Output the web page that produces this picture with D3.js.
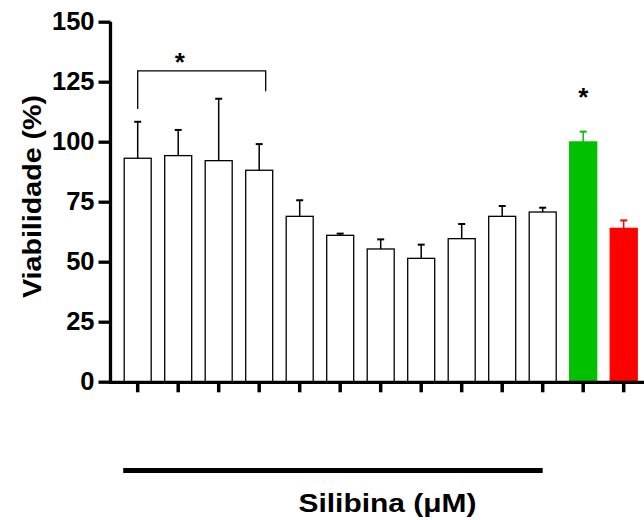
<!DOCTYPE html>
<html>
<head>
<meta charset="utf-8">
<script src="https://cdn.jsdelivr.net/npm/d3@7"></script>
<style>
  body { margin: 0; background: #fff; }
  svg text { font-family: "Liberation Sans", Arial, sans-serif; }
</style>
</head>
<body>
<div id="chart"></div>
<script>
// grupos (sem rótulos no eixo x)
var grupos = ["S1", "S2", "S3", "S4", "S5", "S6", "S7", "S8", "S9", "S10", "S11", "C+", "C-"];
// viabilidade média (%)
var medias = [93.1, 94.2, 92.1, 88.1, 68.9, 61.0, 55.3, 51.4, 59.6, 68.9, 70.7, 99.9, 63.9];
// erro padrão (somente barra superior)
var erros = [15.2, 10.7, 25.8, 10.9, 6.7, 0.7, 4.0, 5.7, 6.1, 4.3, 1.8, 4.3, 3.3];
var cores = ["#ffffff", "#ffffff", "#ffffff", "#ffffff", "#ffffff", "#ffffff", "#ffffff",
             "#ffffff", "#ffffff", "#ffffff", "#ffffff", "#00c000", "#ff0000"];
var yTicks = [0, 25, 50, 75, 100, 125, 150];

var width = 644, height = 520;
var data = grupos.map(function(g, i){
    return {g: g, m: medias[i], e: erros[i], c: cores[i]};
});

var svg = d3.select("#chart").append("svg")
    .attr("width", width)
    .attr("height", height);

var yScale = d3.scaleLinear().domain([0, 150]).range([381.7, 21.7]);
var xScale = d3.scaleBand()
    .domain(grupos)
    .range([117.45, 643.95])
    .paddingInner(1/3)
    .paddingOuter(1/6);

// barras
svg.append("g")
    .selectAll("rect")
    .data(data)
    .enter()
    .append("rect")
    .attr("x", function(d){ return xScale(d.g); })
    .attr("y", function(d){ return yScale(d.m); })
    .attr("width", xScale.bandwidth())
    .attr("height", function(d){ return yScale(0) - yScale(d.m); })
    .attr("fill", function(d){ return d.c; })
    .attr("stroke", function(d){ return d.c == "#ffffff" ? "#000" : d.c; })
    .attr("stroke-width", 1.3);

// barras de erro
var eb = svg.append("g").selectAll("g")
    .data(data)
    .enter()
    .append("g")
    .attr("stroke", function(d){ return d.c == "#ffffff" ? "#000" : d.c; });
eb.append("line")
    .attr("x1", function(d){ return xScale(d.g) + xScale.bandwidth()/2; })
    .attr("x2", function(d){ return xScale(d.g) + xScale.bandwidth()/2; })
    .attr("y1", function(d){ return yScale(d.m); })
    .attr("y2", function(d){ return yScale(d.m + d.e); })
    .attr("stroke-width", 1.5);
eb.append("line")
    .attr("x1", function(d){ return xScale(d.g) + xScale.bandwidth()/2 - 3.5; })
    .attr("x2", function(d){ return xScale(d.g) + xScale.bandwidth()/2 + 3.5; })
    .attr("y1", function(d){ return yScale(d.m + d.e); })
    .attr("y2", function(d){ return yScale(d.m + d.e); })
    .attr("stroke-width", 2);

// eixo y
var yAxis = svg.append("g")
    .attr("transform", "translate(110.5,0)")
    .call(d3.axisLeft(yScale).tickValues(yTicks).tickSize(12).tickSizeOuter(0).tickPadding(4));
yAxis.select(".domain").attr("stroke-width", 3.3).attr("d", "M0,383.5V21.7");
yAxis.selectAll(".tick line").attr("stroke-width", 3.3);
yAxis.selectAll(".tick text")
    .style("font-size", "25.5px")
    .style("font-weight", "bold")
    .attr("fill", "#000");

// eixo x
var xAxis = svg.append("g")
    .attr("transform", "translate(0,382.3)")
    .call(d3.axisBottom(xScale).tickSize(10).tickSizeOuter(0).tickFormat(""));
xAxis.select(".domain").attr("stroke-width", 3.3).attr("d", "M108.8,0H644");
xAxis.selectAll(".tick line").attr("stroke-width", 3.5);

// rótulo eixo y
svg.append("text")
    .attr("transform", "translate(41,196.5) rotate(-90)")
    .attr("text-anchor", "middle")
    .attr("textLength", 203)
    .attr("lengthAdjust", "spacingAndGlyphs")
    .style("font-size", "26px")
    .style("font-weight", "bold")
    .text("Viabilidade (%)");

// linha de silibina + rótulo
var xa = xScale(grupos[0]) - 1, xb = xScale(grupos[10]) + xScale.bandwidth()/2;
svg.append("line")
    .attr("x1", xa).attr("x2", xb)
    .attr("y1", 470.5).attr("y2", 470.5)
    .attr("stroke", "#000")
    .attr("stroke-width", 5);
svg.append("text")
    .attr("x", 387.5)
    .attr("y", 511.6)
    .attr("text-anchor", "middle")
    .attr("textLength", 178)
    .attr("lengthAdjust", "spacingAndGlyphs")
    .style("font-size", "25.5px")
    .style("font-weight", "bold")
    .text("Silibina (\u03bcM)");

// colchete de significância
var c0 = xScale(grupos[0]) + xScale.bandwidth()/2;
var c3 = xScale(grupos[3]) + xScale.bandwidth()*0.74;
svg.append("path")
    .attr("d", "M" + c0 + "," + yScale(113.6) + "V" + yScale(129.5) + "H" + c3 + "V" + yScale(121))
    .attr("fill", "none")
    .attr("stroke", "#000")
    .attr("stroke-width", 1.3);
svg.append("text")
    .attr("x", (c0 + c3)/2 - 22)
    .attr("y", 71)
    .attr("text-anchor", "middle")
    .style("font-size", "26px")
    .style("font-weight", "bold")
    .text("*");
svg.append("text")
    .attr("x", xScale(grupos[11]) + xScale.bandwidth()/2)
    .attr("y", 106)
    .attr("text-anchor", "middle")
    .style("font-size", "26px")
    .style("font-weight", "bold")
    .text("*");
</script>
</body>
</html>
